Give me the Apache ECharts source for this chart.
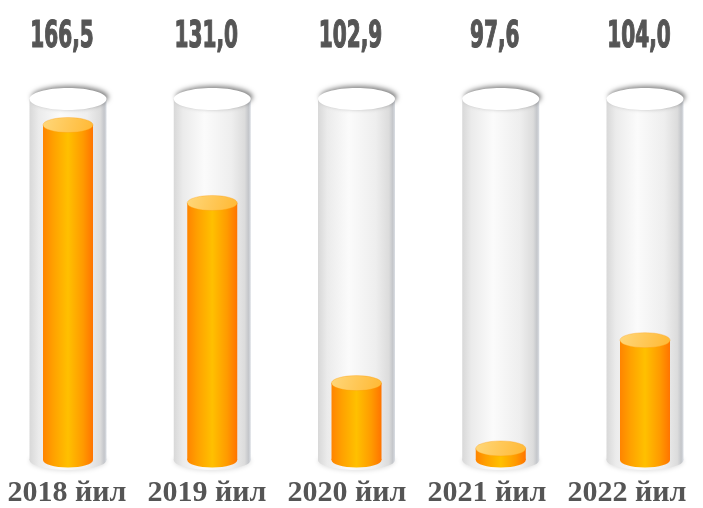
<!DOCTYPE html>
<html>
<head>
<meta charset="utf-8">
<script src="https://cdn.jsdelivr.net/npm/echarts@6/dist/echarts.min.js"></script>
<style>html,body{margin:0;padding:0;background:#fff;}#c{width:703px;height:508px;}</style>
</head>
<body>
<div id="c"></div>
<script>
// Categories
const years = ['2018 йил', '2019 йил', '2020 йил', '2021 йил', '2022 йил'];
// Values printed above each tube
const values = [166.5, 131.0, 102.9, 97.6, 104.0];
// Fill level of each tube (percent of tube height)
const fillLevels = [92.8, 71.2, 21.3, 3.2, 33.2];
// Tick labels for the value row
const valueLabels = values.map(v => v.toFixed(1).replace('.', ','));

const chart = echarts.init(document.getElementById('c'), null, {renderer: 'canvas'});
const LG = echarts.graphic.LinearGradient;

function renderItem(params, api) {
  const idx = api.value(0);
  const cx = api.coord([idx, 0])[0];
  const yBottom = api.coord([idx, 0])[1];
  const yTop = api.coord([idx, 100])[1];
  const yFill = api.coord([idx, api.value(1)])[1];
  const grx = 38.5, gry = 10;
  const orx = 25, ory = 7.5;
  const glassGrad = new LG(0, 0, 1, 0, [
    {offset: 0, color: '#d8d8d8'},
    {offset: 0.12, color: '#ebebeb'},
    {offset: 0.4, color: '#fbfbfb'},
    {offset: 0.75, color: '#eeeeee'},
    {offset: 0.92, color: '#dcdcdc'},
    {offset: 0.97, color: '#c4c6ca'},
    {offset: 1, color: '#dadee4'}
  ]);
  const orangeGrad = new LG(0, 0, 1, 0, [
    {offset: 0, color: '#ff8400'},
    {offset: 0.2, color: '#ffa000'},
    {offset: 0.5, color: '#ffc000'},
    {offset: 0.8, color: '#ff9a00'},
    {offset: 1, color: '#ff7400'}
  ]);
  const orangeTop = new LG(0, 0, 1, 1, [
    {offset: 0, color: '#ffd77a'},
    {offset: 1, color: '#ffb833'}
  ]);
  const children = [
    {type: 'ellipse', shape: {cx: cx, cy: yBottom, rx: grx, ry: gry},
     style: {fill: glassGrad, shadowBlur: 4, shadowColor: 'rgba(0,0,0,0.12)', shadowOffsetY: 1}},
    {type: 'rect', shape: {x: cx - grx, y: yTop, width: grx * 2, height: yBottom - yTop},
     style: {fill: glassGrad}},
    {type: 'ellipse', shape: {cx: cx, cy: yTop, rx: grx, ry: gry + 1},
     style: {fill: '#ffffff', shadowBlur: 5, shadowColor: 'rgba(0,0,0,0.5)', shadowOffsetX: 2, shadowOffsetY: -2}},
    {type: 'ellipse', shape: {cx: cx, cy: yBottom, rx: orx, ry: ory},
     style: {fill: orangeGrad}},
    {type: 'rect', shape: {x: cx - orx, y: yFill, width: orx * 2, height: yBottom - yFill},
     style: {fill: orangeGrad}},
    {type: 'ellipse', shape: {cx: cx, cy: yFill, rx: orx, ry: ory},
     style: {fill: orangeTop, stroke: 'rgba(255,150,0,0.5)', lineWidth: 0.6}},
    // value label above the tube (condensed)
    {type: 'text', x: cx - 6, y: 37, scaleX: 0.62, scaleY: 1.04,
     style: {text: valueLabels[idx], x: 0, y: 0, align: 'center', verticalAlign: 'middle',
       fontFamily: '"DejaVu Sans Condensed", "DejaVu Sans", sans-serif', fontWeight: 'bold',
       fontSize: 36, fill: '#555555', stroke: '#555555', lineWidth: 1.2}}
  ];
  return {type: 'group', children: children};
}

const option = {
  backgroundColor: '#ffffff',
  animation: false,
  grid: [
    {left: 68, right: 58, top: 99, bottom: 48},
    {left: 67, right: 76, top: 470, bottom: 30}
  ],
  xAxis: [
    {gridIndex: 0, type: 'category', data: years, boundaryGap: false, show: false},
    {gridIndex: 1, type: 'category', data: years, boundaryGap: false,
     axisLine: {show: false}, axisTick: {show: false}, splitLine: {show: false},
     axisLabel: {show: true, interval: 0, margin: 19, verticalAlign: 'middle',
       fontFamily: '"Liberation Serif", "DejaVu Serif", serif', fontWeight: 'bold',
       fontSize: 30, color: '#555555'}}
  ],
  yAxis: [
    {gridIndex: 0, type: 'value', min: 0, max: 100, show: false},
    {gridIndex: 1, type: 'value', show: false}
  ],
  series: [{
    type: 'custom',
    xAxisIndex: 0,
    yAxisIndex: 0,
    renderItem: renderItem,
    encode: {x: 0, y: 1},
    data: years.map((y, i) => [i, fillLevels[i], values[i]])
  }]
};
chart.setOption(option);
</script>
</body>
</html>
